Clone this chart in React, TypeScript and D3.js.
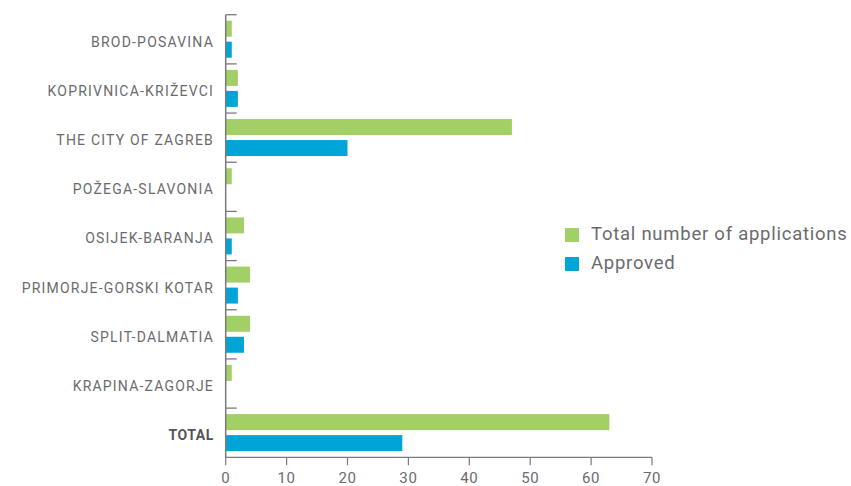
import React from "react";
import * as d3 from "d3";

const categories = [
  "BROD-POSAVINA",
  "KOPRIVNICA-KRIŽEVCI",
  "THE CITY OF ZAGREB",
  "POŽEGA-SLAVONIA",
  "OSIJEK-BARANJA",
  "PRIMORJE-GORSKI KOTAR",
  "SPLIT-DALMATIA",
  "KRAPINA-ZAGORJE",
  "TOTAL",
];
const totalApplications = [1, 2, 47, 1, 3, 4, 4, 1, 63];
const approved = [1, 2, 20, 0, 1, 2, 3, 0, 29];
const seriesNames = ["Total number of applications", "Approved"];
const xTicks = [0, 10, 20, 30, 40, 50, 60, 70];

const W = 851;
const H = 486;
const GREEN = "#a2cf66";
const BLUE = "#00a5d8";
const TEXT = "#6b6b6d";
const AXIS = "#7a7a7a";
const FONT = "Roboto, 'Liberation Sans', sans-serif";

export default function App() {
  const x = d3.scaleLinear().domain([0, 70]).range([225.7, 652]);
  const y = d3.scaleBand<string>().domain(categories).range([14.7, 457.3]).padding(0);
  const bw = y.bandwidth();
  const barH = 16;
  const x0 = x(0);
  const bottom = 457.3;
  const series = [totalApplications, approved];
  const colors = [GREEN, BLUE];
  return (
    <svg width={W} height={H} style={{ position: "absolute", left: 0, top: 0, fontFamily: FONT }}>
      {categories.map((c, i) => {
        const y0 = y(c)!;
        return (
          <g key={c}>
            {series.map((s, k) => {
              const v = s[i];
              if (v <= 0) return null;
              return (
                <rect
                  key={k}
                  x={x0}
                  y={y0 + 6 + k * (barH + 5)}
                  width={x(v) - x0}
                  height={barH}
                  fill={colors[k]}
                />
              );
            })}
            <line x1={x0} x2={x0 + 11} y1={y0} y2={y0} stroke={AXIS} strokeWidth={1.3} />
            <text
              x={214}
              y={y0 + bw / 2 + 2.5}
              dy="0.35em"
              textAnchor="end"
              fontSize={14}
              letterSpacing={c === "TOTAL" ? 0.6 : 1.2}
              fontWeight={c === "TOTAL" ? 700 : 400}
              fill={c === "TOTAL" ? "#555557" : TEXT}
            >
              {c}
            </text>
          </g>
        );
      })}
      <line x1={x0} x2={x0} y1={14.7} y2={bottom} stroke={AXIS} strokeWidth={1.5} />
      <line x1={x0} x2={x(70)} y1={bottom} y2={bottom} stroke={AXIS} strokeWidth={1.3} />
      {xTicks.map((t) => (
        <g key={t}>
          <line x1={x(t)} x2={x(t)} y1={bottom} y2={bottom + 8} stroke={AXIS} strokeWidth={1.2} />
          <text
            x={x(t)}
            y={bottom + 20}
            dy="0.35em"
            textAnchor="middle"
            fontSize={15}
            letterSpacing={0.6}
            fill={TEXT}
          >
            {t}
          </text>
        </g>
      ))}
      {seriesNames.map((n, k) => (
        <g key={n} transform={`translate(565, ${228 + k * 29})`}>
          <rect x={0} y={0} width={14} height={14} fill={colors[k]} />
          <text x={26} y={6} dy="0.35em" fontSize={18.5} letterSpacing={0.75} fill={TEXT}>
            {n}
          </text>
        </g>
      ))}
    </svg>
  );
}
